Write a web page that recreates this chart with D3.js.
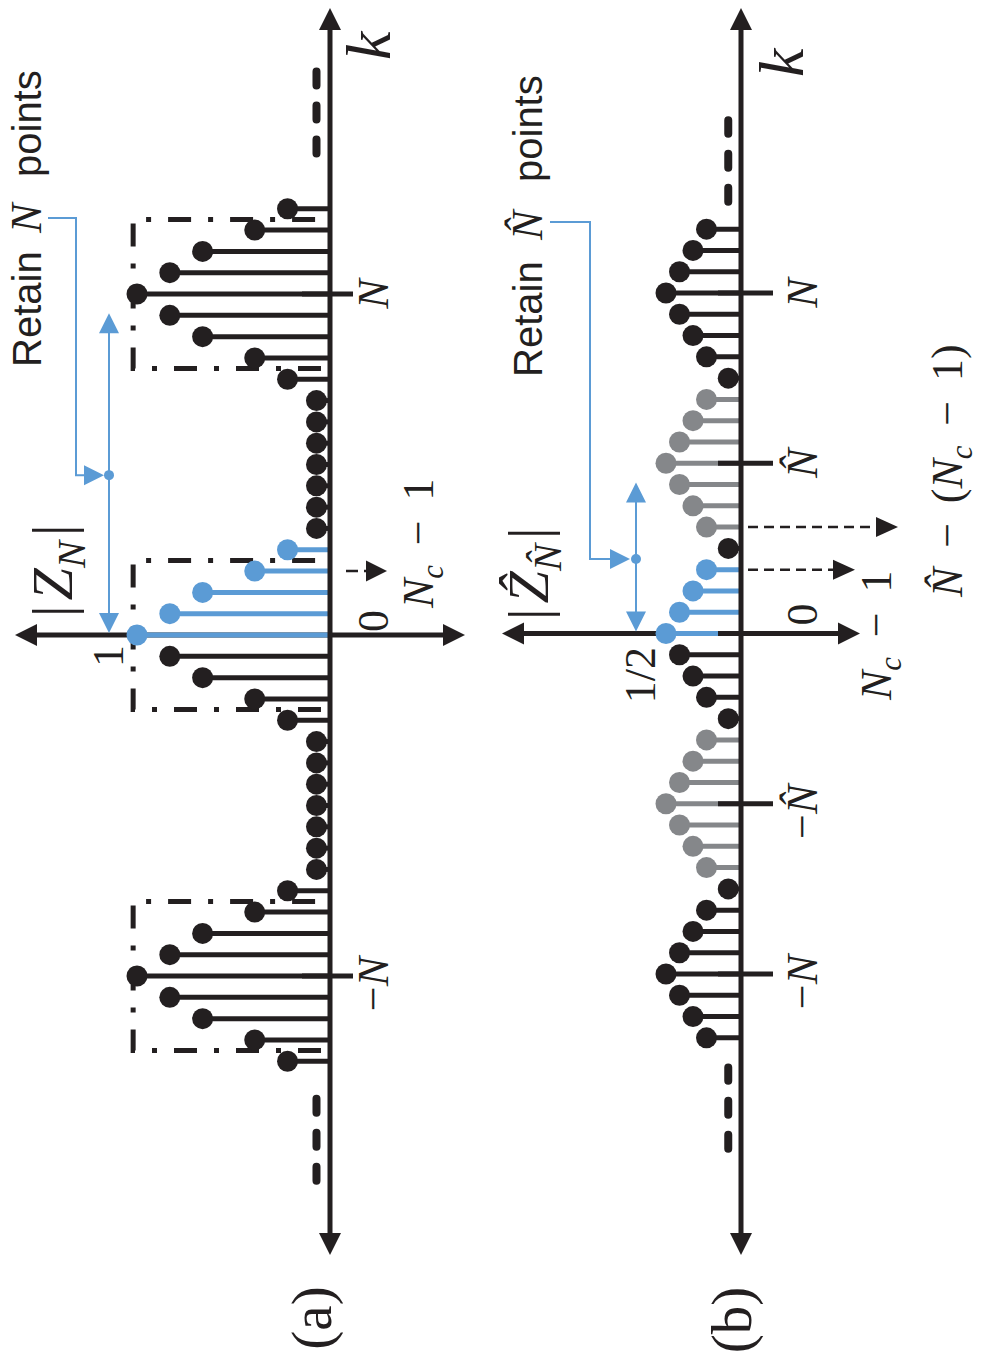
<!DOCTYPE html>
<html>
<head>
<meta charset="utf-8">
<script src="https://cdn.jsdelivr.net/npm/d3@7"></script>
<style>
  html, body { margin: 0; padding: 0; background: #fff; }
  svg { display: block; }
  text { white-space: pre; }
</style>
</head>
<body>
<svg id="fig" width="981" height="1361"></svg>
<script>
// ---------- data ----------
// Panel (a): |Z_N| over k = -20 … 20
const kA = d3.range(-20, 21);
const magA = [0.22, 0.39, 0.66, 0.83, 1.00, 0.83, 0.66, 0.39, 0.22,
              0.07, 0.07, 0.07, 0.07, 0.07, 0.07, 0.07,
              0.22, 0.39, 0.66, 0.83, 1.00, 0.83, 0.66, 0.39, 0.22,
              0.07, 0.07, 0.07, 0.07, 0.07, 0.07, 0.07,
              0.22, 0.39, 0.66, 0.83, 1.00, 0.83, 0.66, 0.39, 0.22];
const blueKA = [0, 1, 2, 3, 4];
const boxCentersA = [-16, 0, 16];
const ellipsisA = [[-25.8, -21.5], [22.4, 26.7]];
const tickKA = [-16, 16];
const tickLabA = ["−N", "N"];

// Panel (b): |Ẑ_N̂| over k = -19 … 19
const kB = d3.range(-19, 20);
const magB = [0.23, 0.32, 0.41, 0.50, 0.41, 0.32, 0.23, 0.085,
              0.23, 0.32, 0.41, 0.50, 0.41, 0.32, 0.23, 0.085,
              0.23, 0.32, 0.41, 0.50, 0.41, 0.32, 0.23, 0.085,
              0.23, 0.32, 0.41, 0.50, 0.41, 0.32, 0.23, 0.085,
              0.23, 0.32, 0.41, 0.50, 0.41, 0.32, 0.23];
const blueKB = [0, 1, 2, 3];
const grayKB = [-11, -10, -9, -8, -7, -6, -5, 5, 6, 7, 8, 9, 10, 11];
const ellipsisB = [[-24.4, -20.2], [20.1, 24.3]];
const tickKB = [-16, -8, 0, 8, 16];
const tickLabB = ["−N", "−N\u0302", "", "N\u0302", "N"];

// Marker positions (in samples) and other labels
const N = 16, Nhat = 8, Nc = 4;
const peakA = 1, peakB = 0.5;
const peakLabA = "1", peakLabB = "1/2";

// ---------- style ----------
const W = 981, H = 1361;
const INK = "#231f20", BLUE = "#5b9bd5", GRAY = "#85878a";
const SERIF = "'Liberation Serif', 'DejaVu Serif', serif";
const SANS = "'Liberation Sans', 'DejaVu Sans', sans-serif";
const DOT_R = 10.5, STEM_W = 5, AXIS_W = 5;

const svg = d3.select("#fig");
// The figure is laid out landscape, then turned a quarter turn counter-clockwise.
const root = svg.append("g").attr("transform", `translate(0,${H}) rotate(-90)`);

// ---------- helpers ----------
function head(g, x, y, dx, dy, len, wid, col) {
  const bx = x - dx * len, by = y - dy * len;
  const px = -dy * wid / 2, py = dx * wid / 2;
  g.append("path")
    .attr("d", `M${x},${y}L${bx + px},${by + py}L${bx - px},${by - py}Z`)
    .attr("fill", col);
}
function arrow(g, x1, y1, x2, y2, o) {
  const L = Math.hypot(x2 - x1, y2 - y1), dx = (x2 - x1) / L, dy = (y2 - y1) / L;
  const s = o.both ? o.len * 0.6 : 0;
  const ln = g.append("line")
    .attr("x1", x1 + dx * s).attr("y1", y1 + dy * s)
    .attr("x2", x2 - dx * o.len * 0.6).attr("y2", y2 - dy * o.len * 0.6)
    .attr("stroke", o.col).attr("stroke-width", o.w);
  if (o.dash) ln.attr("stroke-dasharray", o.dash);
  head(g, x2, y2, dx, dy, o.len, o.wid, o.col);
  if (o.both) head(g, x1, y1, -dx, -dy, o.len, o.wid, o.col);
}
function parseMath(str) {
  const ch = Array.from(str), segs = [];
  let i = 0;
  while (i < ch.length) {
    let sub = false;
    if (ch[i] === "_") { sub = true; i++; }
    if (/[A-Za-z]/.test(ch[i])) {
      let t = ch[i++];
      while (i < ch.length && /[\u0300-\u036f]/.test(ch[i])) t += ch[i++];
      segs.push({ t, it: true, sub });
    } else {
      let t = "";
      while (i < ch.length && !/[A-Za-z_]/.test(ch[i])) t += ch[i++];
      segs.push({ t, it: false, sub });
    }
  }
  return segs;
}
// pad: extra gap after opening / before closing delimiters
function mathText(g, str, x, y, size, anchor, pad) {
  const t = g.append("text").attr("x", x).attr("y", y)
    .attr("font-family", SERIF).attr("font-size", size)
    .attr("word-spacing", size * 0.2)
    .attr("text-anchor", anchor || "start").attr("fill", INK);
  let shift = 0;
  const segs = parseMath(str);
  segs.forEach((s, i) => {
    const ts = t.append("tspan").text(s.t);
    if (s.it) ts.attr("font-style", "italic");
    const want = s.sub ? size * 0.22 : 0;
    if (want !== shift) { ts.attr("dy", want - shift); shift = want; }
    if (s.sub) ts.attr("font-size", size * 0.7);
    if (pad && (i === 1 || i === segs.length - 1)) ts.attr("dx", pad);
  });
  return t;
}
function stems(g, x, y, ks, mags, colorOf) {
  const d = ks.map((k, i) => ({ k, m: mags[i], c: colorOf(k) }));
  g.append("g").selectAll("line").data(d).join("line")
    .attr("x1", p => x(p.k)).attr("x2", p => x(p.k))
    .attr("y1", y(0)).attr("y2", p => y(p.m))
    .attr("stroke", p => p.c).attr("stroke-width", STEM_W);
  g.append("g").selectAll("circle").data(d).join("circle")
    .attr("cx", p => x(p.k)).attr("cy", p => y(p.m))
    .attr("r", DOT_R).attr("fill", p => p.c);
}
function ellipsis(g, x, v, ranges) {
  ranges.forEach(([a, b]) => {
    g.append("line").attr("x1", x(a) + 4).attr("x2", x(b) - 4)
      .attr("y1", v).attr("y2", v)
      .attr("stroke", INK).attr("stroke-width", 8)
      .attr("stroke-linecap", "round").attr("stroke-dasharray", "14 20");
  });
}
function ticks(g, x, vals, labs, v0, v1, labV) {
  vals.forEach((k, i) => {
    g.append("line").attr("x1", x(k)).attr("x2", x(k))
      .attr("y1", v0).attr("y2", v1)
      .attr("stroke", INK).attr("stroke-width", AXIS_W);
    if (!labs[i]) return;
    const neg = labs[i].startsWith("−");
    mathText(g, labs[i], neg ? x(k) + 19 : x(k), labV, 44, neg ? "end" : "middle");
  });
}

// ---------- panel (a) ----------
const xA = d3.scaleLinear().domain([-N, N]).range([385, 1067]);
const yA = d3.scaleLinear().domain([0, 1]).range([330, 137]);
const gA = root.append("g");

// dash-dot windows around each replica
boxCentersA.forEach(c => {
  const u1 = xA(c - 3.5), u2 = xA(c + 3.5), vt = yA(1.02), vb = 321;
  gA.append("path").attr("d", `M${u1},${vb}V${vt}H${u2}V${vb}`)
    .attr("fill", "none").attr("stroke", INK).attr("stroke-width", 5)
    .attr("stroke-dasharray", "23 17 5 17");
});
// magnitude axis
arrow(gA, xA(0), 465, xA(0), 15, { both: true, len: 22, wid: 22, col: INK, w: AXIS_W });
stems(gA, xA, yA, kA, magA, k => blueKA.includes(k) ? BLUE : INK);
// sample axis
arrow(gA, 106, yA(0), 1353, yA(0), { both: true, len: 22, wid: 22, col: INK, w: AXIS_W });
ticks(gA, xA, tickKA, tickLabA, 302, 353, 388);
ellipsis(gA, xA, yA(0.07), ellipsisA);
mathText(gA, "0", xA(0) + 3, 388, 44);
mathText(gA, "k", 1301, 390, 64);
mathText(gA, "|Z_N|", 744, 72, 58, "start", 5);
// N_c - 1 marker
arrow(gA, xA(Nc - 1), 346, xA(Nc - 1), 387, { len: 21, wid: 21, col: INK, w: 2.5, dash: "12 6" });
mathText(gA, "N_c − 1", 753, 433, 44);
// retained span
const arrVA = yA(peakA) - 28;
mathText(gA, peakLabA, 716, arrVA + 14, 44, "end");
arrow(gA, xA(0) + 2, arrVA, xA(N - 1) + 2, arrVA, { both: true, len: 20, wid: 20, col: BLUE, w: 2 });
gA.append("circle").attr("cx", xA((N - 1) / 2)).attr("cy", arrVA).attr("r", 5).attr("fill", BLUE);
const retA = gA.append("text").attr("y", 41).attr("fill", INK);
retA.append("tspan").attr("x", 994).attr("font-family", SANS).attr("font-size", 40).text("Retain");
retA.append("tspan").attr("x", 1128).attr("font-family", SERIF).attr("font-size", 44).attr("font-style", "italic").text("N");
retA.append("tspan").attr("x", 1184).attr("font-family", SANS).attr("font-size", 40).text("points");
gA.append("path")
  .attr("d", `M${1143},48V76H${xA((N - 1) / 2)}V86`)
  .attr("fill", "none").attr("stroke", BLUE).attr("stroke-width", 2);
head(gA, xA((N - 1) / 2), 104, 0, 1, 20, 20, BLUE);
gA.append("text").attr("x", 43).attr("y", 331).attr("text-anchor", "middle")
  .attr("font-family", SERIF).attr("font-size", 57).attr("fill", INK).text("(a)");

// ---------- panel (b) ----------
const xB = d3.scaleLinear().domain([-N, N]).range([387, 1068]);
const yB = d3.scaleLinear().domain([0, 0.5]).range([741, 666]);
const gB = root.append("g");

arrow(gB, xB(0), 860, xB(0), 502, { both: true, len: 22, wid: 22, col: INK, w: AXIS_W });
stems(gB, xB, yB, kB, magB, k => blueKB.includes(k) ? BLUE : (grayKB.includes(k) ? GRAY : INK));
arrow(gB, 106, yB(0), 1353, yB(0), { both: true, len: 22, wid: 22, col: INK, w: AXIS_W });
ticks(gB, xB, tickKB, tickLabB, 718, 773, 817);
ellipsis(gB, xB, yB(0.085), ellipsisB);
mathText(gB, "0", xB(0) + 8, 817, 44);
mathText(gB, "k", 1284, 803, 64);
mathText(gB, "|Z\u0302_N\u0302|", 741, 548, 58, "start", 5);
// N_c - 1 and N̂ - (N_c - 1) markers
arrow(gB, xB(Nc - 1), 748, xB(Nc - 1), 855, { len: 22, wid: 20, col: INK, w: 2.5, dash: "10 6" });
arrow(gB, xB(Nhat - (Nc - 1)), 748, xB(Nhat - (Nc - 1)), 898, { len: 22, wid: 20, col: INK, w: 2.5, dash: "10 6" });
mathText(gB, "N_c − 1", 661, 891, 44);
mathText(gB, "N\u0302 − (N_c − 1)", 764, 962, 44);
// retained span
const arrVB = yB(peakB) - 30;
mathText(gB, peakLabB, 714, arrVB + 19, 44, "end");
arrow(gB, xB(0) + 2, arrVB, xB(Nhat - 1) + 2, arrVB, { both: true, len: 20, wid: 20, col: BLUE, w: 2 });
gB.append("circle").attr("cx", xB((Nhat - 1) / 2)).attr("cy", arrVB).attr("r", 5).attr("fill", BLUE);
const retB = gB.append("text").attr("y", 542).attr("fill", INK);
retB.append("tspan").attr("x", 984).attr("font-family", SANS).attr("font-size", 40).text("Retain");
retB.append("tspan").attr("x", 1121).attr("font-family", SERIF).attr("font-size", 44).attr("font-style", "italic").text("N\u0302");
retB.append("tspan").attr("x", 1179).attr("font-family", SANS).attr("font-size", 40).text("points");
gB.append("path")
  .attr("d", `M${1139},550V590H${xB((Nhat - 1) / 2)}V611`)
  .attr("fill", "none").attr("stroke", BLUE).attr("stroke-width", 2);
head(gB, xB((Nhat - 1) / 2), 630, 0, 1, 20, 20, BLUE);
gB.append("text").attr("x", 41).attr("y", 751).attr("text-anchor", "middle")
  .attr("font-family", SERIF).attr("font-size", 57).attr("fill", INK).text("(b)");
</script>
</body>
</html>
